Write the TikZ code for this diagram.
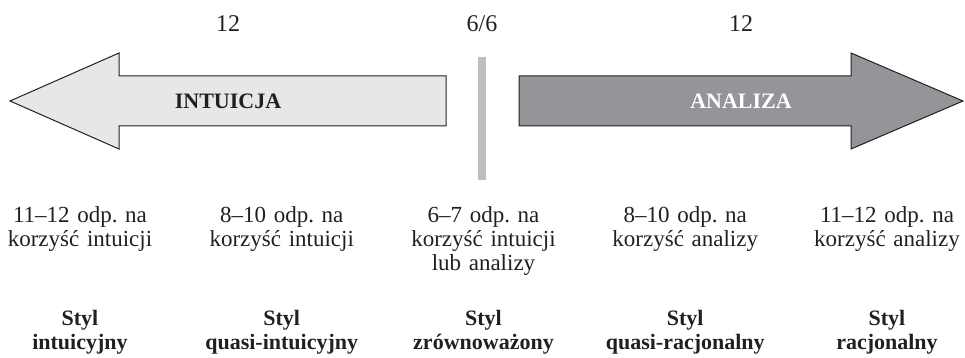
\documentclass[tikz,border=0pt]{standalone}
\usepackage{fontspec}
\setmainfont{Liberation Serif}
\usepackage{xcolor}
\usepackage{tikz}
\usetikzlibrary{matrix}
\frenchspacing

\definecolor{ink}{HTML}{231F20}
\definecolor{intfill}{HTML}{E6E7E8}
\definecolor{anfill}{HTML}{939598}
\definecolor{midbar}{HTML}{BCBEC0}

\begin{document}
\begin{tikzpicture}[x=1pt, y=-1pt, text=ink, font=\fontsize{23}{24}\selectfont,
		bighead/.style={font=\fontsize{22}{24}\selectfont\bfseries},
		count/.style={anchor=base, font=\fontsize{24}{24}\selectfont}]
	\useasboundingbox (0,0) rectangle (965,358);
	% strzalki
	\draw[ink, line width=1pt, line join=miter, fill=intfill] (10,101) -- (119,53) -- (119,76) -- (446,76) -- (446,126) -- (119,126) -- (119,149) -- cycle;
	\draw[ink, line width=1pt, line join=miter, fill=anfill] (519,76) -- (851,76) -- (851,53) -- (963,101) -- (851,149) -- (851,126) -- (519,126) -- cycle;
	\fill[midbar] (478,57) rectangle (486,180);
	\node[bighead] (intuicja) at (228,101) {INTUICJA};
	\node[bighead, text=white] (analiza) at (741,101) {ANALIZA};
	\node[count] (lewo) at (228,32) {12};
	\node[count] (srodek) at (482,32) {6/6};
	\node[count] (prawo) at (741,32) {12};
	% odpowiedzi i style
	\matrix(m)[matrix of nodes, matrix anchor=m-1-1.base,
		nodes={anchor=base, text width=190pt, align=center, inner sep=0pt},
		column sep={201.75pt,between origins}, row sep={103pt,between origins},
		row 2/.style={nodes={font=\fontsize{22}{24}\selectfont\bfseries}}] at (80,222) {
		{11–12 odp. na\\korzyść intuicji} & {8–10 odp. na\\korzyść intuicji} & {6–7 odp. na\\korzyść intuicji\\lub analizy} & {8–10 odp. na\\korzyść analizy} & {11–12 odp. na\\korzyść analizy}\\
		{Styl\\intuicyjny} & {Styl\\quasi-intuicyjny} & {Styl\\zrównoważony} & {Styl\\quasi-racjonalny} & {Styl\\racjonalny}\\
	};
\end{tikzpicture}
\end{document}
